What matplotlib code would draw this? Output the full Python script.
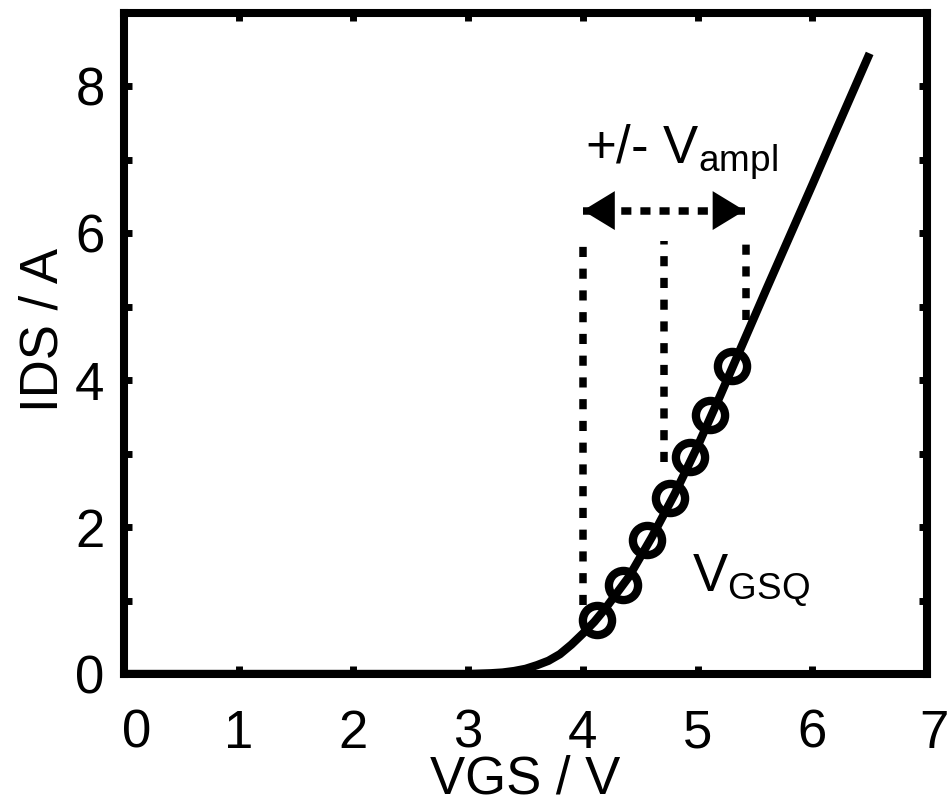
import matplotlib
matplotlib.use("Agg")
import matplotlib.pyplot as plt
from matplotlib.ticker import FuncFormatter
import matplotlib.transforms as mtransforms

# Transfer characteristic of the MOSFET
vgs_curve = [0.0, 3.0, 3.2, 3.3, 3.4, 3.5, 3.6, 3.7, 3.8, 3.9, 4.0, 4.1, 4.2,
             4.4, 4.6, 4.8, 5.0, 5.2, 5.4, 5.6, 5.8, 6.0, 6.2, 6.5]
ids_curve = [0.0, 0.0, 0.01, 0.02, 0.04, 0.07, 0.12, 0.18, 0.27, 0.40, 0.55,
             0.71, 0.90, 1.32, 1.86, 2.45, 3.10, 3.80, 4.52, 5.24, 5.95, 6.66,
             7.38, 8.45]

# Operating points swept by the input signal
vgs_points = [4.12, 4.35, 4.56, 4.76, 4.93, 5.11, 5.30]
ids_points = [0.73, 1.21, 1.82, 2.39, 2.95, 3.52, 4.20]

# Guide lines: minimum, quiescent and maximum gate voltage
guide_x = [4.00, 4.71, 5.42]
guide_bottom = [0.94, 2.88, 4.82]
guide_top = 5.90

# Amplitude arrow
ampl_left, ampl_right, ampl_y = 4.00, 5.41, 6.31

x_ticks = [0, 1, 2, 3, 4, 5, 6, 7]
y_ticks = [0, 1, 2, 3, 4, 5, 6, 7, 8, 9]

plt.rcParams["font.family"] = ["Liberation Sans", "DejaVu Sans"]
plt.rcParams["mathtext.fontset"] = "custom"
plt.rcParams["mathtext.rm"] = "Liberation Sans"
plt.rcParams["mathtext.it"] = "Liberation Sans"

FS = 38
LW = 6.0

fig = plt.figure(figsize=(9.5, 8.07), dpi=100)
ax = fig.add_axes([124 / 950, 1 - 674 / 807, (927 - 124) / 950, (674 - 13) / 807])

ax.plot(vgs_curve, ids_curve, color="black", lw=LW, solid_capstyle="butt",
        solid_joinstyle="round", zorder=3)
ax.plot(vgs_points, ids_points, linestyle="none", marker="o", markersize=21,
        markerfacecolor="none", markeredgecolor="black", markeredgewidth=6.0, zorder=4)

dot_style = (0, (1.35, 1.55))
for gx, gb in zip(guide_x, guide_bottom):
    ax.plot([gx, gx], [gb, guide_top], color="black", lw=5.4,
            linestyle=dot_style, dash_capstyle="butt", zorder=2)

ax.plot([ampl_left, ampl_right], [ampl_y, ampl_y], color="black", lw=5.4,
        linestyle=(0, (1.35, 1.2)), dash_capstyle="butt", zorder=2)
ax.annotate("", xy=(ampl_left, ampl_y), xytext=(ampl_right, ampl_y),
            arrowprops=dict(arrowstyle="<|-|>,head_length=23,head_width=14",
                            lw=0, fc="black", ec="black", shrinkA=0, shrinkB=0,
                            mutation_scale=1), zorder=3)

ax.text(4.02, 6.95, r"+/- $\mathrm{V_{ampl}}$", fontsize=FS, ha="left", va="baseline")
ax.text(4.95, 1.14, r"$\mathrm{V_{GSQ}}$", fontsize=FS, ha="left", va="baseline")

ax.set_xlim(0, 7)
ax.set_ylim(0, 9)
ax.set_xticks(x_ticks)
ax.set_yticks(y_ticks)
ax.yaxis.set_major_formatter(
    FuncFormatter(lambda v, p: f"{int(v)}" if int(v) % 2 == 0 and v < 9 else ""))

for s in ax.spines.values():
    s.set_linewidth(5.8)
ax.tick_params(direction="in", length=6, width=5, top=True, right=True,
               labelsize=FS)
ax.tick_params(axis="x", pad=25)
ax.tick_params(axis="y", pad=14)

# nudge the end labels of the x axis
xlabels = ax.get_xticklabels()
xlabels[0].set_transform(xlabels[0].get_transform() +
                         mtransforms.ScaledTranslation(13 / 100, 0, fig.dpi_scale_trans))
xlabels[-1].set_transform(xlabels[-1].get_transform() +
                          mtransforms.ScaledTranslation(7 / 100, 0, fig.dpi_scale_trans))

ax.set_xlabel("VGS / V", fontsize=FS, labelpad=-3)
ax.set_ylabel("IDS / A", fontsize=FS, labelpad=5)
ax.yaxis.label.set_y(0.52)

fig.savefig("out.png", dpi=100)
